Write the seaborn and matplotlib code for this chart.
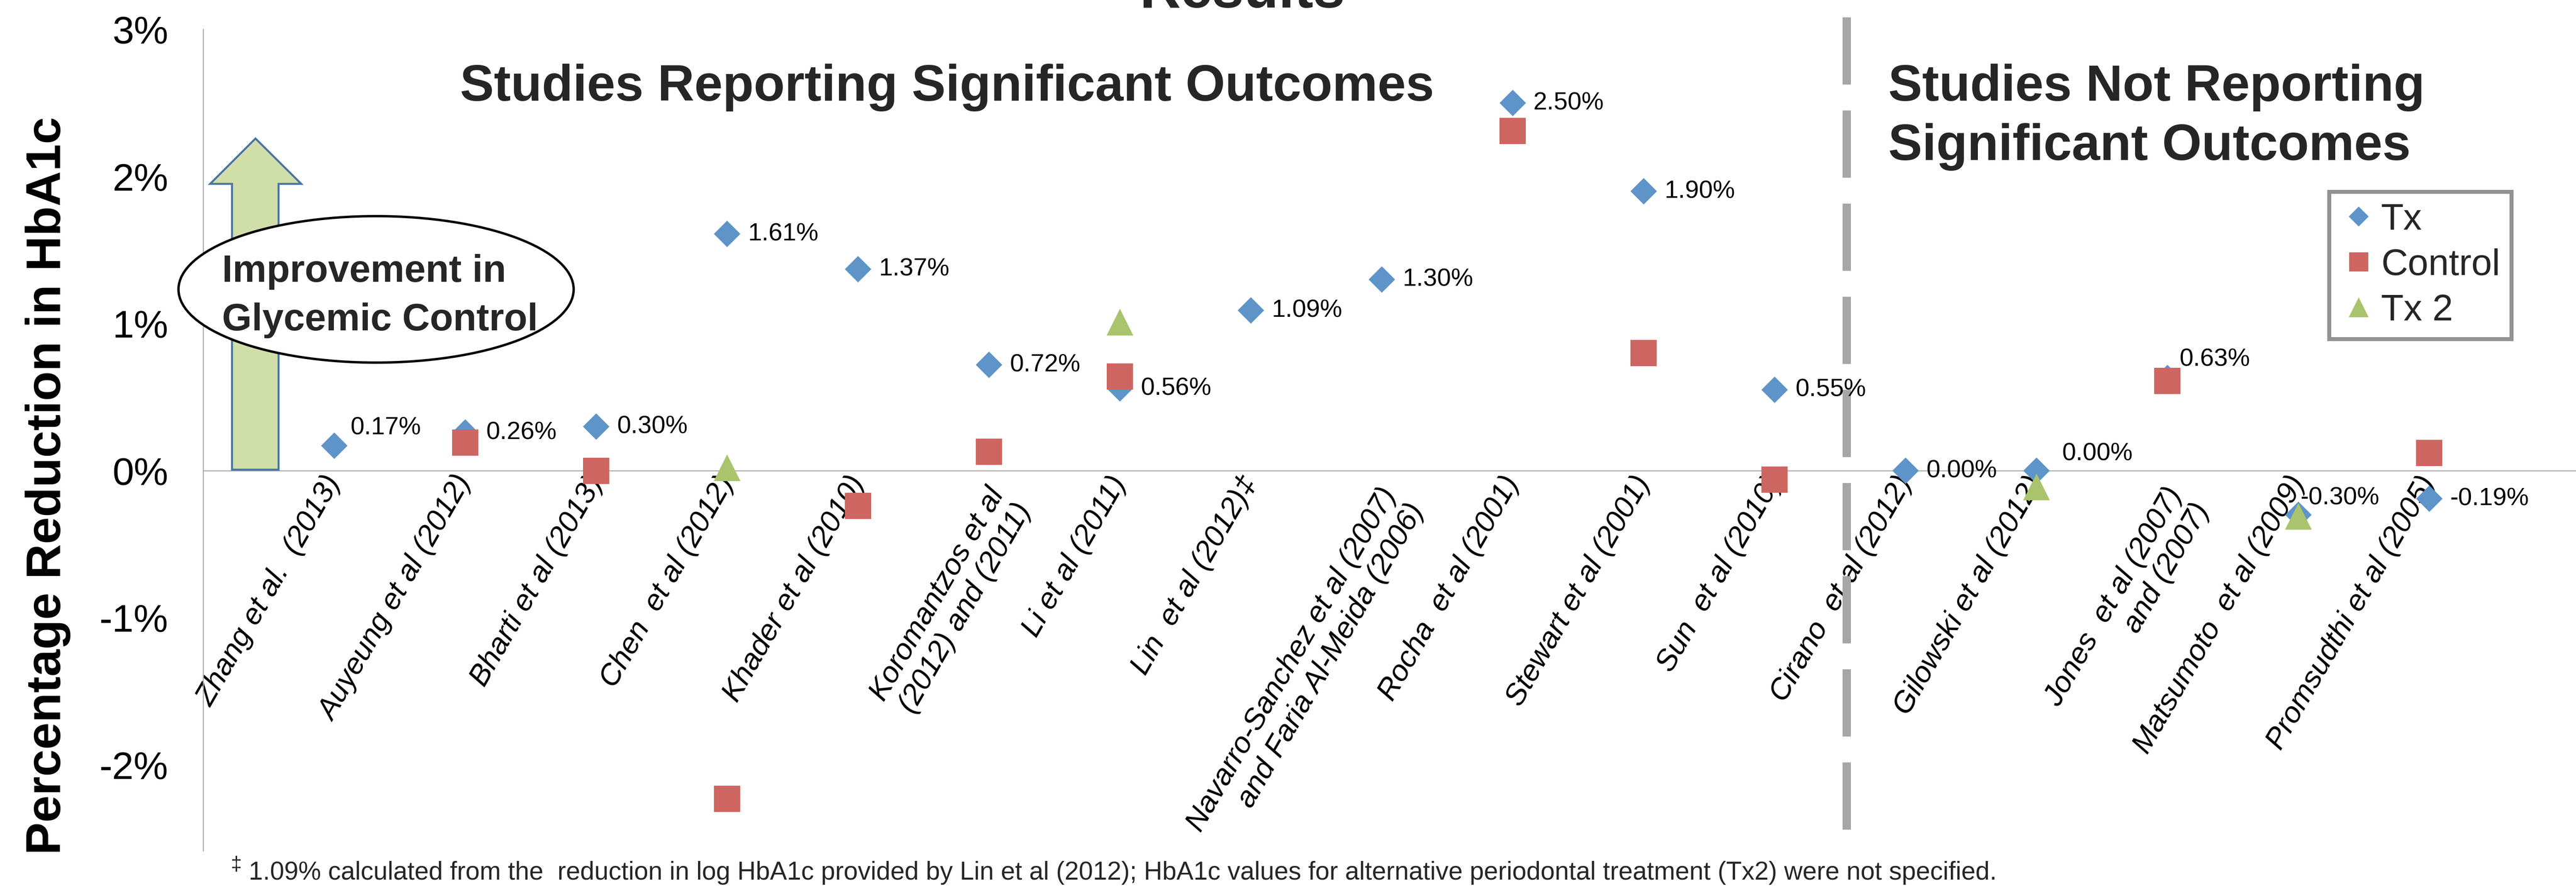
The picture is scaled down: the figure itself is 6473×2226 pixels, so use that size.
import numpy as np
import pandas as pd
import matplotlib
matplotlib.use("Agg")
import matplotlib.pyplot as plt
import seaborn as sns
from matplotlib.patches import Polygon, Ellipse
from matplotlib.lines import Line2D
from matplotlib.transforms import ScaledTranslation
from matplotlib import font_manager

# ---------------- data ----------------
studies = [
    "Zhang et al.  (2013)", "Auyeung et al (2012)", "Bharti et al (2013)", "Chen  et al (2012)",
    "Khader et al (2010)", "Koromantzos et al\n(2012) and (2011)", "Li et al (2011)",
    "Lin  et al (2012)\u2021", "Navarro-Sanchez et al (2007)\nand Faria Al-Meida (2006)",
    "Rocha  et al (2001)", "Stewart et al (2001)", "Sun  et al (2010)", "Cirano  et al (2012)",
    "Gilowski et al (2012)", "Jones  et al (2007)\nand (2007)", "Matsumoto  et al (2009)",
    "Promsudthi et al (2005)",
]
tx = [0.17, 0.26, 0.30, 1.61, 1.37, 0.72, 0.56, 1.09, 1.30, 2.50, 1.90, 0.55, 0.00, 0.00, 0.63, -0.30, -0.19]
control = [np.nan, 0.19, 0.00, -2.23, -0.24, 0.13, 0.64, np.nan, np.nan, 2.31, 0.80, -0.06,
           np.nan, np.nan, 0.61, np.nan, 0.12]
tx2 = [np.nan, np.nan, np.nan, 0.02, np.nan, np.nan, 1.01, np.nan, np.nan, np.nan, np.nan, np.nan,
       np.nan, -0.11, np.nan, -0.31, np.nan]
series_names = ["Tx", "Control", "Tx 2"]
yticks = [-2, -1, 0, 1, 2, 3]
ytick_labels = ["-2%", "-1%", "0%", "1%", "2%", "3%"]
divider_position = 11.55

title_text = "Results"
heading_left = "Studies Reporting Significant Outcomes"
heading_right = ["Studies Not Reporting", "Significant Outcomes"]
arrow_text = ["Improvement in", "Glycemic Control"]
ylabel_text = "Percentage Reduction in HbA1c"
footnote_mark = "\u2021"
footnote_text = ("1.09% calculated from the  reduction in log HbA1c provided by Lin et al (2012); "
                 "HbA1c values for alternative periodontal treatment (Tx2) were not specified.")

# ---------------- style ----------------
W, H, DPI = 6473, 2226, 100
PT = 72.0 / DPI  # points per pixel
colors = {"Tx": "#5E94C8", "Control": "#CD6660", "Tx 2": "#A9C46C"}
markers = {"Tx": "D", "Control": "s", "Tx 2": "^"}
sizes = {"Tx": (47 * PT) ** 2, "Control": (66 * PT) ** 2, "Tx 2": (67 * PT) ** 2}
axis_grey = "#A6A6A6"

sns.set_theme(style="white")
plt.rcParams["font.family"] = ["Liberation Sans", "DejaVu Sans"]

df = pd.concat([
    pd.DataFrame({"study": studies, "pos": np.arange(len(studies)), "value": vals, "series": name})
    for name, vals in zip(series_names, [tx, control, tx2])
], ignore_index=True).dropna(subset=["value"])

fig = plt.figure(figsize=(W / DPI, H / DPI), dpi=DPI)
fig.patch.set_facecolor("white")


def fx(px):
    return px / W


def fy(py):
    return 1 - py / H


ax_left, ax_top, ax_bottom = 511, 74, 2138
ax = fig.add_axes([fx(ax_left), fy(ax_bottom), 1 - fx(ax_left), (ax_bottom - ax_top) / H])
ax.set_facecolor("white")

sns.scatterplot(data=df, x="pos", y="value", hue="series", style="series", size="series",
                palette=colors, markers=markers, sizes=sizes, linewidth=0,
                legend=False, ax=ax, zorder=3, clip_on=False)

ax.set_xlim(-1, 17.12)
ax.set_ylim(-2.585, 3.0)

# spines
for s in ["top", "right"]:
    ax.spines[s].set_visible(False)
ax.spines["bottom"].set_position(("data", 0))
for s in ["left", "bottom"]:
    ax.spines[s].set_color(axis_grey)
    ax.spines[s].set_linewidth(2.5 * PT)

# y ticks
ax.set_yticks(yticks, labels=ytick_labels)
ax.tick_params(axis="y", length=0, pad=88 * PT, labelsize=70, labelcolor="black")

# x ticks and category labels
ax.set_xticks(np.arange(len(studies)))
ax.set_xticklabels(studies, rotation=60, ha="right", va="center", rotation_mode="anchor",
                   fontsize=54, fontstyle="italic")
ax.tick_params(axis="x", direction="out", length=8 * PT, width=2 * PT, color=axis_grey,
               pad=11 * PT, labelcolor="black")
two_line_shift = ScaledTranslation(55 / DPI, -49 / DPI, fig.dpi_scale_trans)
for lab in ax.get_xticklabels():
    if "\n" in lab.get_text():
        lab.set_transform(lab.get_transform() + two_line_shift)

ax.set_xlabel("")
ax.set_ylabel(ylabel_text, fontsize=88, fontweight="bold", color="black")
ax.yaxis.set_label_coords((178 - ax_left) / (W - ax_left), (ax_bottom - 1220) / (ax_bottom - ax_top))

# divider dashed line
ax.plot([divider_position, divider_position], [3.083, -2.457], color=axis_grey, lw=21 * PT,
        linestyle=(0, (169 / 21, 65 / 21)), dash_capstyle="butt", solid_capstyle="butt",
        clip_on=False, zorder=1)

# data labels for Tx
label_offsets = {0: (40, 45), 13: (64, 43), 14: (30, 47), 15: (5, 43)}
for i, v in enumerate(tx):
    dx, dy = label_offsets.get(i, (52, 0))
    ax.annotate(f"{v:.2f}%", xy=(i, v), xytext=(dx * PT, dy * PT), textcoords="offset points",
                ha="left", va="center", fontsize=45, color="black", zorder=4,
                annotation_clip=False)

# legend
handles = [
    Line2D([], [], linestyle="None", marker="D", markersize=36 * PT, color=colors["Tx"], markeredgewidth=0),
    Line2D([], [], linestyle="None", marker="s", markersize=48 * PT, color=colors["Control"], markeredgewidth=0),
    Line2D([], [], linestyle="None", marker="^", markersize=50 * PT, color=colors["Tx 2"], markeredgewidth=0),
]
leg = ax.legend(handles, series_names, loc="upper left", bbox_to_anchor=(fx(5853), fy(482)),
                bbox_transform=fig.transFigure, borderaxespad=0, frameon=True, fancybox=False,
                fontsize=67, borderpad=0.3, labelspacing=0.3, handlelength=1.0, handletextpad=0.1)
leg.get_frame().set_edgecolor("#777777")
leg.get_frame().set_linewidth(10 * PT)
leg.get_frame().set_facecolor("white")

# arrow + ellipse annotation
arrow_px = [(583, 1180), (700, 1180), (700, 462), (757, 462), (642, 348), (528, 462), (583, 462)]
fig.patches.append(Polygon([(fx(x), fy(y)) for x, y in arrow_px], closed=True,
                           transform=fig.transFigure, facecolor="#D0DEAA", edgecolor="#4A74A5",
                           linewidth=5 * PT, zorder=5))
fig.patches.append(Ellipse((fx(945), fy(727)), 993 / W, 368 / H, transform=fig.transFigure,
                           facecolor="white", edgecolor="black", linewidth=6 * PT, zorder=6))
fig.text(fx(558), fy(708), arrow_text[0], fontsize=69, fontweight="bold", ha="left",
         va="baseline", zorder=7)
fig.text(fx(558), fy(830), arrow_text[1], fontsize=69, fontweight="bold", ha="left",
         va="baseline", zorder=7)

# titles / headings
fig.text(fx(3122), fy(19), title_text, fontsize=103, fontweight="bold", ha="center", va="baseline")
fig.text(fx(1156), fy(253), heading_left, fontsize=92, fontweight="bold", ha="left", va="baseline")
fig.text(fx(4745), fy(253), heading_right[0], fontsize=92, fontweight="bold", ha="left", va="baseline")
fig.text(fx(4745), fy(402), heading_right[1], fontsize=92, fontweight="bold", ha="left", va="baseline")

# footnote
names = {f.name for f in font_manager.fontManager.ttflist}
foot_family = ["Liberation Sans Narrow", "Liberation Sans"] if "Liberation Sans Narrow" in names else ["Liberation Sans", "DejaVu Sans"]
fig.text(fx(580), fy(2186), footnote_mark, fontsize=36, ha="left", va="baseline", family=foot_family)
foot = fig.text(fx(625), fy(2210), footnote_text, fontsize=42, ha="left", va="baseline", family=foot_family)
renderer = fig.canvas.get_renderer()
wpx = foot.get_window_extent(renderer).width
foot.set_fontsize(42 * (5021 - 625) / wpx)

fig.savefig("out.png", dpi=DPI, facecolor="white")
